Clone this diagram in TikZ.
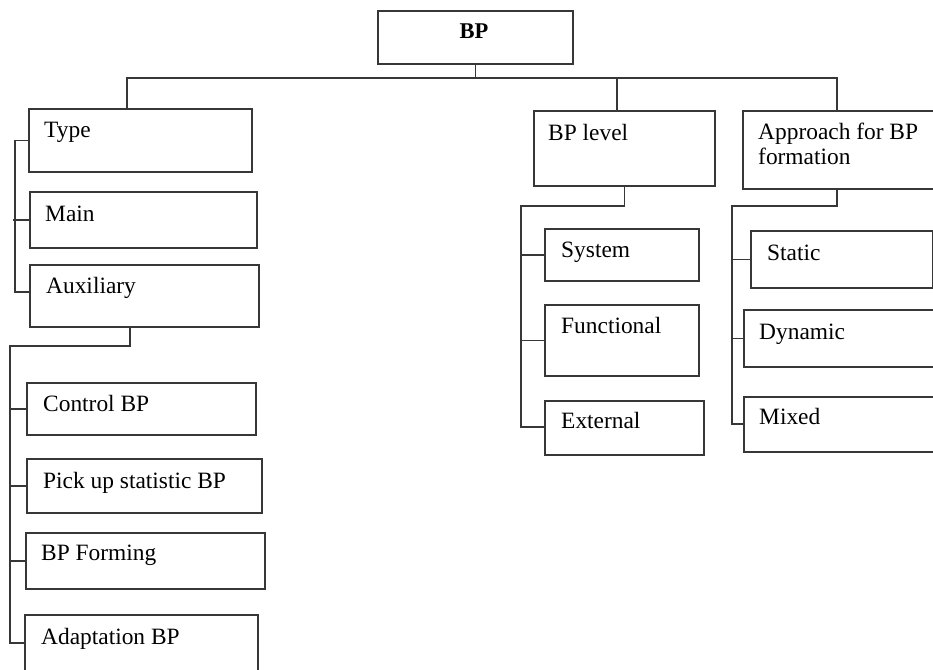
\documentclass[tikz,border=0pt]{standalone}
\usepackage{fontspec}
\setmainfont{Liberation Serif}
\definecolor{ln}{RGB}{55,55,55}
\begin{document}
\begin{tikzpicture}[x=1pt,y=-1pt,
  box/.style={draw=ln, line width=1.6pt, inner sep=0pt, anchor=north west},
  txt/.style={anchor=base west, inner sep=0pt, font=\fontsize{23.4}{25}\selectfont},
  conn/.style={draw=ln, line width=1.6pt}]
\useasboundingbox (0,0) rectangle (933,669);
% boxes
\node[box, minimum width=195pt, minimum height=53pt] (bp) at (377,10) {};
\node[box, minimum width=223pt, minimum height=63pt] (type) at (28,108) {};
\node[box, minimum width=227pt, minimum height=56pt] (main) at (29,191) {};
\node[box, minimum width=229pt, minimum height=62pt] (aux) at (29,264) {};
\node[box, minimum width=229pt, minimum height=52pt] (ctrl) at (26,382) {};
\node[box, minimum width=235pt, minimum height=54pt] (pick) at (26,458) {};
\node[box, minimum width=239pt, minimum height=56pt] (form) at (25,532) {};
\node[box, minimum width=233pt, minimum height=58pt] (adap) at (24,614) {};
\node[box, minimum width=181pt, minimum height=75pt] (lvl) at (533,110) {};
\node[box, minimum width=154pt, minimum height=52pt] (sys) at (544,228) {};
\node[box, minimum width=154pt, minimum height=71pt] (func) at (544,304) {};
\node[box, minimum width=159pt, minimum height=54pt] (ext) at (544,400) {};
\node[box, minimum width=200pt, minimum height=78pt] (app) at (742,110) {};
\node[box, minimum width=182pt, minimum height=57pt] (stat) at (750,230) {};
\node[box, minimum width=200pt, minimum height=57pt] (dyn) at (743,309) {};
\node[box, minimum width=200pt, minimum height=55pt] (mix) at (743,396) {};
% texts
\node[anchor=base, inner sep=0pt, font=\fontsize{22.5}{25}\selectfont\bfseries] (t-bp) at (474,39) {BP};
\node[txt] (t-type) at (44,137) {Type};
\node[txt] (t-main) at (45,221) {Main};
\node[txt] (t-aux) at (46,293) {Auxiliary};
\node[txt] (t-ctrl) at (43,411) {Control BP};
\node[txt] (t-pick) at (43,488) {Pick up statistic BP};
\node[txt] (t-form) at (41,560) {BP Forming};
\node[txt] (t-adap) at (41,644) {Adaptation BP};
\node[txt] (t-lvl) at (548,140) {BP level};
\node[txt] (t-app1) at (758,139) {Approach for BP};
\node[txt] (t-app2) at (758,164) {formation};
\node[txt] (t-sys) at (561,257) {System};
\node[txt] (t-func) at (561,333) {Functional};
\node[txt] (t-ext) at (561,428) {External};
\node[txt] (t-stat) at (767,260) {Static};
\node[txt] (t-dyn) at (759,339) {Dynamic};
\node[txt] (t-mix) at (759,424) {Mixed};
% top bus
\coordinate (busL) at (127,78);
\coordinate (busM) at (617,78);
\coordinate (busR) at (837,78);
\draw[conn] (bp.south) -- (bp.south |- busL);
\draw[conn] (busL |- type.north) -- (busL) -- (busR) -- (busR |- app.north);
\draw[conn] (busM) -- (busM |- lvl.north);
% type group
\coordinate (v1) at (15,292);
\draw[conn] (type.west) -| (v1) -- (v1 -| aux.west);
\draw[conn] (v1 |- main.west) ++(-2,0) -- (main.west);
% auxiliary group
\coordinate (a1) at (130,346);
\coordinate (a2) at (10,643);
\draw[conn] (a1 |- aux.south) -- (a1) -| (a2) -- (a2 -| adap.west);
\draw[conn] (a2 |- ctrl.west) -- (ctrl.west);
\draw[conn] (a2 |- pick.west) -- (pick.west);
\draw[conn] (a2 |- form.west) -- (form.west);
% level group
\coordinate (l1) at (521,206);
\coordinate (l2) at (521,427);
\draw[conn] (lvl.south) |- (l1) -- (l2) -- (l2 -| ext.west);
\draw[conn] (l1 |- sys.west) -- (sys.west);
\draw[conn] (l1 |- func.west) -- (func.west);
% approach group
\coordinate (p1) at (732,206);
\coordinate (p2) at (732,424);
\draw[conn] (busR |- app.south) |- (p1) -- (p2) -- (p2 -| mix.west);
\draw[conn] (p1 |- stat.west) -- (stat.west);
\draw[conn] (p1 |- dyn.west) -- (dyn.west);
\end{tikzpicture}
\end{document}
